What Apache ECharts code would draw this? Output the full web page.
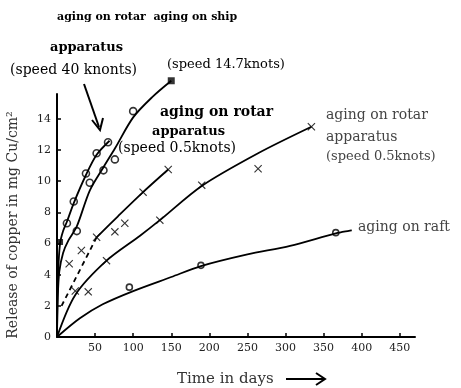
<!DOCTYPE html>
<html>
<head>
<meta charset="utf-8">
<script src="https://cdn.jsdelivr.net/npm/echarts@6/dist/echarts.min.js"></script>
<style>
	html, body { margin: 0; background: #fff; }
	#chart { width: 461px; height: 388px; }
</style>
</head>
<body>
<div id="chart"></div>
<script>
// tick labels
const xTicks = [50, 100, 150, 200, 250, 300, 350, 400, 450]
const yTicks = [0, 2, 4, 6, 8, 10, 12, 14]

// measured points [days, mg Cu/cm2]
const rotar40Pts = [[4, 6.1], [13, 7.3], [22, 8.7], [38, 10.5], [52, 11.8], [67, 12.5]]
const shipPts = [[26, 6.8], [43, 9.9], [61, 10.7], [76, 11.4], [100, 14.5]]
const shipEndPt = [[150, 16.45]]
const rotarSlowAPts = [[16, 4.7], [32, 5.55], [52, 6.4], [76, 6.75], [89, 7.3], [113, 9.3], [146, 10.75]]
const rotarSlowBPts = [[24, 2.95], [41, 2.9], [65, 4.9], [135, 7.5], [190, 9.75], [264, 10.8], [334, 13.5]]
const raftPts = [[95, 3.2], [189, 4.6], [366, 6.7]]

// fitted curves as drawn in the figure
const rotar40Curve = [[0, 0], [0.5, 2.2], [1.5, 4.2], [4, 6.0], [8, 6.8], [13, 7.4], [22, 8.6], [38, 10.4], [52, 11.7], [69, 12.6]]
const shipCurve = [[0, 0], [1, 2.5], [3, 4.2], [8, 5.4], [15, 6.2], [26, 7.1], [43, 9.4], [61, 10.9], [76, 12.1], [100, 14.1], [125, 15.4], [150, 16.45]]
const rotarSlowACurve = [[52, 6.4], [80, 7.75], [113, 9.3], [146, 10.75]]
const rotarSlowADashed = [[6, 2.0], [52, 6.4]]
const rotarSlowBCurve = [[0, 0], [24, 2.7], [65, 4.9], [109, 6.5], [135, 7.5], [190, 9.7], [264, 11.8], [334, 13.5]]
const raftCurve = [[0, 0], [30, 1.2], [60, 2.1], [100, 2.95], [150, 3.85], [189, 4.55], [250, 5.3], [306, 5.85], [366, 6.65], [387, 6.85]]

const serif = 'DejaVu Serif'
const cross = 'path://M0,1L1,0L5,4L9,0L10,1L6,5L10,9L9,10L5,6L1,10L0,9L4,5Z'

const curve = (data, dashed) => ({
	type: 'line',
	data,
	smooth: 0.3,
	symbol: 'none',
	clip: false,
	silent: true,
	lineStyle: { color: '#000', width: 1.8, type: dashed ? [5, 4] : 'solid' },
})
const marks = (data, symbol, size, filled) => ({
	type: 'scatter',
	data,
	symbol,
	symbolSize: size,
	clip: false,
	itemStyle: { color: filled ? '#000' : '#fff', borderColor: '#000', borderWidth: filled ? 0 : 1.6 },
})
const label = (text, x, y, size, bold, color) => ({
	type: 'text',
	x,
	y,
	style: {
		text,
		fill: color || '#000',
		font: `${bold ? 'bold ' : ''}${size}px "${serif}"`,
		verticalAlign: 'middle',
	},
})

const chart = echarts.init(document.getElementById('chart'), null, { renderer: 'canvas' })
chart.setOption({
	animation: false,
	backgroundColor: '#fff',
	grid: { left: 57, right: 46, top: 94, bottom: 51 },
	xAxis: {
		type: 'value',
		min: 0,
		max: 470,
		splitLine: { show: false },
		axisLine: { lineStyle: { color: '#000', width: 2 } },
		axisTick: { inside: true, length: 4, lineStyle: { color: '#000', width: 1.5 }, customValues: xTicks },
		axisLabel: { customValues: xTicks, color: '#222', fontFamily: serif, fontSize: 11, margin: 6 },
	},
	yAxis: {
		type: 'value',
		min: 0,
		max: 15.6,
		splitLine: { show: false },
		axisLine: { show: true, lineStyle: { color: '#000', width: 2 } },
		axisTick: { show: true, inside: true, length: 4, lineStyle: { color: '#000', width: 1.5 }, customValues: yTicks },
		axisLabel: { customValues: yTicks, color: '#222', fontFamily: serif, fontSize: 11, margin: 6 },
	},
	series: [
		curve(rotar40Curve),
		curve(shipCurve),
		curve(rotarSlowACurve),
		curve(rotarSlowADashed, true),
		curve(rotarSlowBCurve),
		curve(raftCurve),
		marks(rotar40Pts.slice(0, 1), 'rect', 6, true),
		marks(rotar40Pts.slice(1), 'circle', 7),
		marks(shipPts, 'circle', 7),
		marks(shipEndPt, 'rect', 7, true),
		marks(rotarSlowAPts, cross, 8, true),
		marks(rotarSlowBPts, cross, 8, true),
		marks(raftPts, 'circle', 6),
	],
	graphic: [
		label('aging on rotar  aging on ship', 57, 17, 11, true),
		label('apparatus', 50, 48, 13, true),
		label('(speed 40 knonts)', 10, 70, 14),
		label('(speed 14.7knots)', 167, 65, 13),
		label('aging on rotar', 160, 112, 14, true),
		label('apparatus', 152, 132, 13, true),
		label('(speed 0.5knots)', 118, 148, 14),
		label('aging on rotar', 326, 115, 14, false, '#444'),
		label('apparatus', 326, 137, 14, false, '#444'),
		label('(speed 0.5knots)', 326, 157, 13, false, '#444'),
		label('aging on raft', 358, 227, 14, false, '#444'),
		label('Time in days', 177, 379, 15, false, '#333'),
		{
			type: 'text',
			x: 13,
			y: 225,
			rotation: Math.PI / 2,
			style: {
				text: 'Release of copper in mg Cu/cm²',
				fill: '#333',
				font: `14px "${serif}"`,
				align: 'center',
				verticalAlign: 'middle',
			},
		},
		{ type: 'line', shape: { x1: 84, y1: 84, x2: 99, y2: 127 }, style: { stroke: '#000', lineWidth: 2 } },
		{ type: 'polyline', shape: { points: [[92, 120], [100, 130], [103, 118]] }, style: { stroke: '#000', lineWidth: 2, fill: null } },
		{ type: 'line', shape: { x1: 286, y1: 379, x2: 324, y2: 379 }, style: { stroke: '#000', lineWidth: 2 } },
		{ type: 'polyline', shape: { points: [[316, 373], [325, 379], [316, 385]] }, style: { stroke: '#000', lineWidth: 2, fill: null } },
	],
})
</script>
</body>
</html>
